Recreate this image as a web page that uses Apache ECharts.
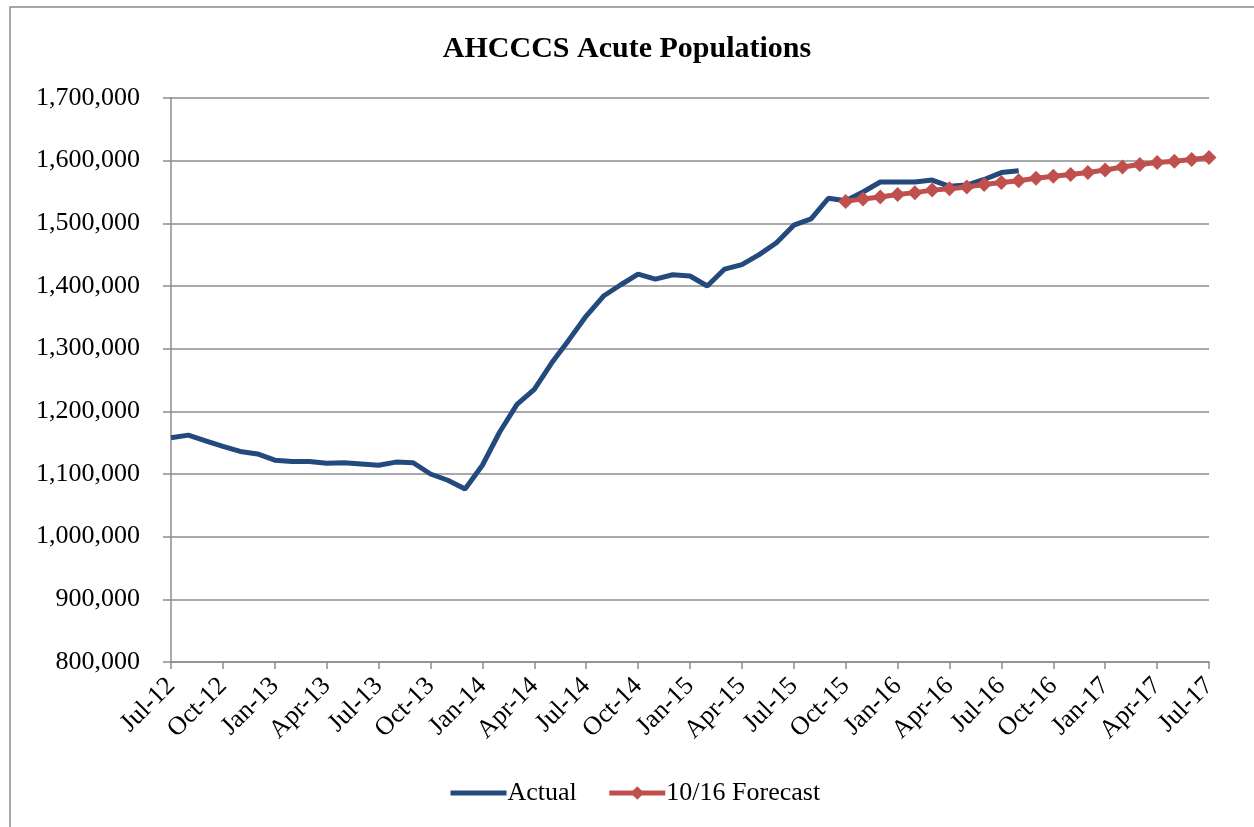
<!DOCTYPE html>
<html>
<head>
<meta charset="utf-8">
<title>AHCCCS Acute Populations</title>
<script src="https://cdn.jsdelivr.net/npm/echarts@6/dist/echarts.min.js"></script>
<style>
  html, body { margin: 0; padding: 0; background: #fff; }
  #main { width: 1254px; height: 827px; }
</style>
</head>
<body>
<div id="main"></div>
<script>
// ===================== data =====================
const monthNames = ['Jan', 'Feb', 'Mar', 'Apr', 'May', 'Jun', 'Jul', 'Aug', 'Sep', 'Oct', 'Nov', 'Dec']
// Jul-12 .. Jul-17, monthly
const months = []
for (let i = 0; i < 61; i++) {
  const m = (6 + i) % 12
  const y = 12 + Math.floor((6 + i) / 12)
  months.push(monthNames[m] + '-' + y)
}

// Actual: Jul-12 .. Aug-16
const actual = [
  1158000, 1162000, 1153000, 1144000, 1136000, 1132000, 1122000, 1120000, 1120000, 1117000,
  1118000, 1116000, 1114000, 1119000, 1118000, 1100000, 1090000, 1076000, 1114000, 1167000,
  1211000, 1235000, 1277000, 1314000, 1352000, 1384000, 1402000, 1419000, 1411000, 1418000,
  1416000, 1400000, 1427000, 1434000, 1450000, 1469000, 1497000, 1507000, 1540000, 1536000,
  1550000, 1566000, 1566000, 1566000, 1569000, 1559000, 1561000, 1570000, 1581000, 1584000,
]

// 10/16 Forecast: Oct-15 .. Jul-17
const forecastStart = 'Oct-15'
const forecast = [
  1535000, 1539000, 1542000, 1546000, 1549000, 1553000, 1555000, 1558000, 1562000, 1565000,
  1568000, 1572000, 1575000, 1578000, 1581000, 1585000, 1590000, 1594000, 1597000, 1599000,
  1602000, 1605000,
]

const yMin = 800000
const yMax = 1700000
const yStep = 100000

// ===================== init =====================
const serif = '"Liberation Serif", "Times New Roman", serif'
const gray = '#8c8c8c'
const offset = months.indexOf(forecastStart)
const forecastData = months.map((m, i) => (i >= offset ? forecast[i - offset] : null))

const myChart = echarts.init(document.getElementById('main'))
const option = {
  backgroundColor: '#fff',
  animation: false,
  title: {
    text: 'AHCCCS Acute Populations',
    left: 'center',
    top: 29,
    textStyle: {
      fontFamily: serif,
      fontSize: 30,
      fontWeight: 'bold',
      color: '#000',
    },
  },
  graphic: [
    {
      type: 'polyline',
      shape: { points: [[10, 840], [10, 7], [1260, 7]] },
      style: { stroke: '#8a8a8a', lineWidth: 1.5, fill: null },
      silent: true,
    },
  ],
  grid: {
    left: 171,
    right: 45,
    top: 98,
    bottom: 165,
  },
  legend: {
    left: 443,
    top: 775,
    itemWidth: 56,
    itemHeight: 17,
    itemGap: 30,
    lineStyle: { width: 5 },
    textStyle: {
      fontFamily: serif,
      fontSize: 26,
      color: '#000',
      padding: [0, 0, 0, -4],
    },
    data: [
      { name: 'Actual', itemStyle: { opacity: 0 } },
      { name: '10/16 Forecast' },
    ],
  },
  xAxis: {
    type: 'category',
    data: months,
    boundaryGap: false,
    axisLine: {
      // 坐标轴线
      show: true,
      lineStyle: { color: gray, width: 1.5 },
    },
    axisTick: {
      show: true,
      interval: 2,
      length: 7,
      lineStyle: { color: gray, width: 1.5 },
    },
    axisLabel: {
      interval: 2,
      rotate: 45,
      margin: 20,
      fontFamily: serif,
      fontSize: 26,
      color: '#000',
    },
    splitLine: { show: false },
  },
  yAxis: {
    type: 'value',
    min: yMin,
    max: yMax,
    interval: yStep,
    axisLine: {
      show: true,
      lineStyle: { color: gray, width: 1.5 },
    },
    axisTick: {
      show: true,
      length: 8,
      lineStyle: { color: gray, width: 1.5 },
    },
    axisLabel: {
      margin: 31,
      fontFamily: serif,
      fontSize: 26,
      color: '#000',
      formatter: (v) => v.toLocaleString('en-US'),
    },
    splitLine: {
      show: true,
      lineStyle: { color: gray, width: 1.5 },
    },
  },
  series: [
    {
      name: 'Actual',
      type: 'line',
      data: actual,
      symbol: 'none',
      lineStyle: { color: '#24497c', width: 5 },
      itemStyle: { color: '#24497c' },
      z: 3,
    },
    {
      name: '10/16 Forecast',
      type: 'line',
      data: forecastData,
      symbol: 'diamond',
      symbolSize: 15,
      showAllSymbol: true,
      lineStyle: { color: '#c0504d', width: 5 },
      itemStyle: { color: '#c0504d' },
      z: 4,
    },
  ],
}
myChart.setOption(option)
</script>
</body>
</html>
